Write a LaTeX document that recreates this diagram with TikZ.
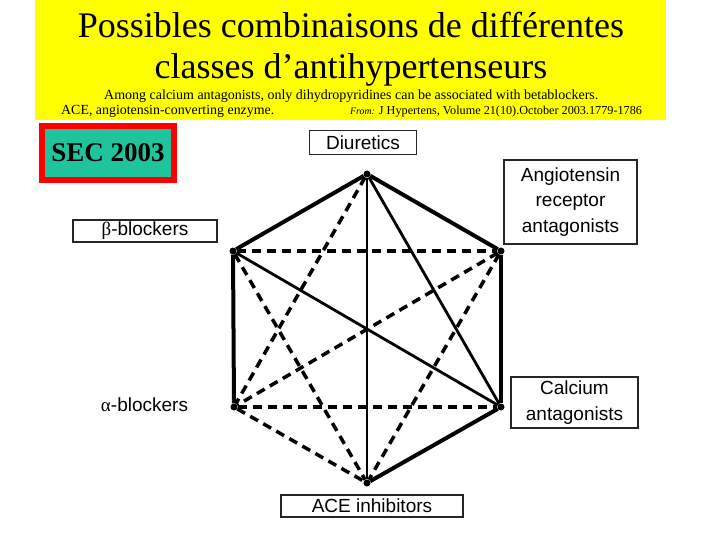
\documentclass[tikz,border=0pt]{standalone}
\usepackage{fontspec}
\setmainfont{Liberation Serif}
\setsansfont{Liberation Sans}
\usetikzlibrary{positioning}
\definecolor{slideyellow}{RGB}{255,255,0}
\definecolor{secteal}{RGB}{32,196,156}

\begin{document}
\begin{tikzpicture}[x=1pt,y=-1pt,
    vertex/.style={circle,fill=black,inner sep=0pt,minimum size=7pt},
    classbox/.style={draw=black!85,line width=1.1pt,inner sep=0pt,align=center,
        font=\sffamily\fontsize{19}{25.5}\selectfont},
    outeredge/.style={line width=4pt},
    inneredge/.style={line width=2.8pt},
    dashedge/.style={line width=3.5pt,dash pattern=on 9pt off 6pt}]
            \useasboundingbox (0,0) rectangle (720,540);

            % header
            \fill [slideyellow] (35,0) rectangle (666,120);
            \node [anchor=base,font=\fontsize{36}{41}\selectfont] (title1) at (351,38) {Possibles combinaisons de différentes};
            \node [anchor=base,font=\fontsize{36}{41}\selectfont] (title2) at (351,79) {classes d’antihypertenseurs};
            \node [anchor=base west,inner sep=0pt,font=\fontsize{14}{16}\selectfont] (note) at (104,100) {Among calcium antagonists, only dihydropyridines can be associated with betablockers.};
            \node [anchor=base west,inner sep=0pt,font=\fontsize{13.9}{16}\selectfont] (abbr) at (61,115) {ACE, angiotensin-converting enzyme.};
            \node [anchor=base west,inner sep=0pt,font=\fontsize{12.2}{14}\selectfont] (src) at (350,115) {{\itshape\fontsize{9.8}{10}\selectfont From:} J Hypertens, Volume 21(10).October 2003.1779-1786};

            % SEC box
            \node [draw=red,line width=5.5pt,fill=secteal,minimum width=132pt,minimum height=54pt,
                   font=\bfseries\fontsize{27}{30}\selectfont] (sec) at (108,153) {SEC 2003};

            % class labels
            \node [classbox,minimum width=107pt,minimum height=23.5pt] (lDiu) at (363,142.5) {Diuretics};
            \node [classbox,minimum width=133pt,minimum height=84pt] (lAng) at (570.5,202) {Angiotensin\\receptor\\antagonists};
            \node [classbox,minimum width=144pt,minimum height=22pt] (lBeta) at (145,231) {{\rmfamily β}-blockers};
            \node [classbox,draw=none] (lAlpha) at (144.5,405) {{\rmfamily α}-blockers};
            \node [classbox,minimum width=127pt,minimum height=51pt] (lCalc) at (574.5,402.5) {Calcium\\antagonists};
            \node [classbox,minimum width=182pt,minimum height=22pt] (lAce) at (372,506) {ACE inhibitors};

            % vertices
            \node [vertex] (Diu) at (367,174) {};
            \node [vertex] (Beta) at (233,251) {};
            \node [vertex] (Ang) at (501,251) {};
            \node [vertex] (Alpha) at (234,407) {};
            \node [vertex] (Calc) at (501,407) {};
            \node [vertex] (Ace) at (367,483) {};

            % combinations not advised
            \draw [dashedge] (Diu) -- (Alpha);
            \draw [dashedge] (Beta) -- (Ang);
            \draw [dashedge] (Beta) -- (Ace);
            \draw [dashedge] (Ang) -- (Alpha);
            \draw [dashedge] (Ang) -- (Ace);
            \draw [dashedge] (Alpha) -- (Calc);
            \draw [dashedge] (Alpha) -- (Ace);

            % advised combinations
            \draw [inneredge] (Diu) -- (Ace);
            \draw [inneredge] (Diu) -- (Calc);
            \draw [inneredge] (Beta) -- (Calc);
            \draw [outeredge] (Diu) -- (Beta);
            \draw [outeredge] (Diu) -- (Ang);
            \draw [outeredge] (Beta) -- (Alpha);
            \draw [outeredge] (Ang) -- (Calc);
            \draw [outeredge] (Calc) -- (Ace);
        \end{tikzpicture}
\end{document}
